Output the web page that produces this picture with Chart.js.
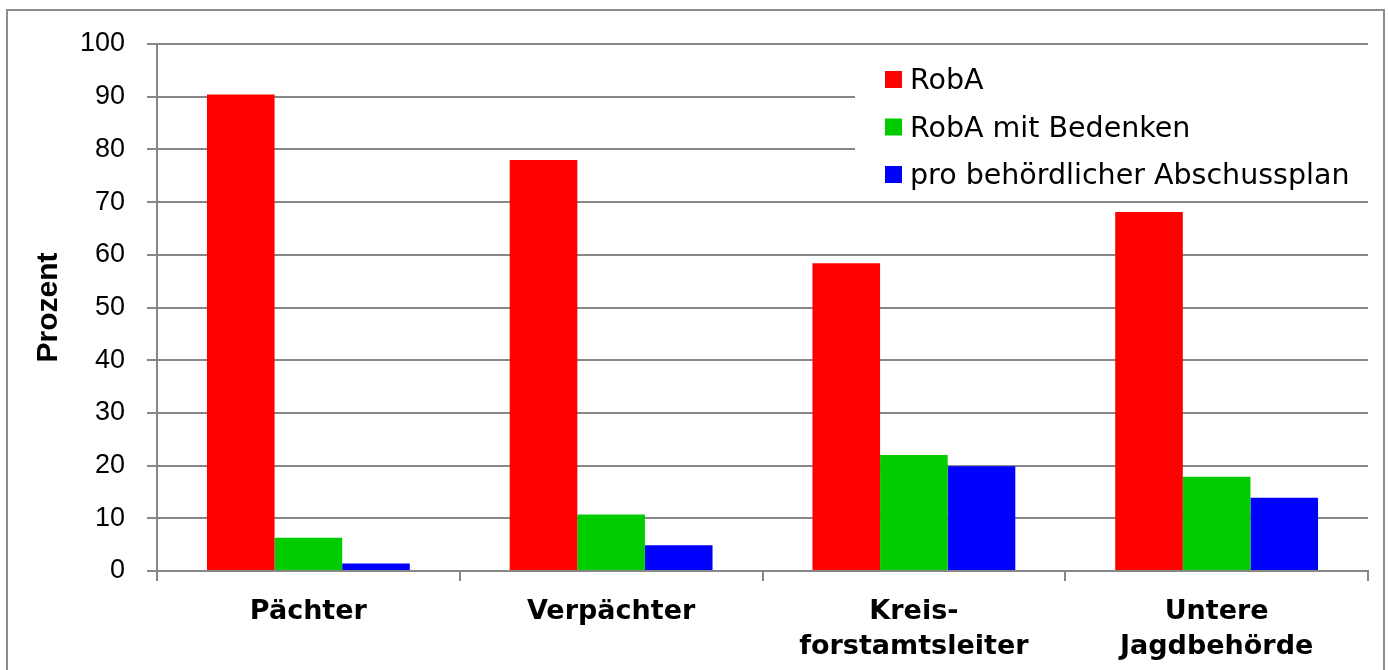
<!DOCTYPE html>
<html lang="de">
<head>
    <meta charset="UTF-8">
    <title>RobA - Prozent</title>
    <script src="https://cdn.jsdelivr.net/npm/chart.js"></script>
    <style>
        html, body { margin: 0; padding: 0; background: #fff; overflow: hidden; }
        #wrap { position: relative; width: 1389px; height: 670px; }
    </style>
</head>
<body>
<div id="wrap">
    <canvas id="chart" width="1389" height="670"></canvas>
</div>
<script>
    // Daten
    const categories = [['Pächter'], ['Verpächter'], ['Kreis-', 'forstamtsleiter'], ['Untere', 'Jagdbehörde']];
    const seriesNames = ['RobA', 'RobA mit Bedenken', 'pro behördlicher Abschussplan'];
    const robA = [90.4, 78.0, 58.4, 68.1];
    const robAMitBedenken = [6.3, 10.7, 22.0, 17.9];
    const proAbschussplan = [1.4, 4.9, 19.9, 13.9];
    const seriesColors = ['#ff0000', '#00cc00', '#0000ff'];

    const gridGray = '#878787';

    // Rahmen um das Diagramm
    const frame = {
        id: 'frame',
        beforeDraw(chart) {
            const ctx = chart.ctx;
            ctx.save();
            ctx.strokeStyle = '#8c8c8c';
            ctx.lineWidth = 2;
            ctx.strokeRect(7, 10, 1377, 700);
            ctx.restore();
        }
    };

    // Legende innerhalb der Zeichenfläche
    const innerLegend = {
        id: 'innerLegend',
        afterDraw(chart) {
            const ctx = chart.ctx;
            ctx.save();
            ctx.fillStyle = '#fff';
            ctx.fillRect(855, 56, 516, 140);
            ctx.font = '28.5px "DejaVu Sans"';
            ctx.textBaseline = 'alphabetic';
            chart.data.datasets.forEach((ds, i) => {
                const base = 89 + i * 47.5;
                ctx.fillStyle = ds.backgroundColor;
                ctx.fillRect(885, base - 18, 17, 17);
                ctx.fillStyle = '#000';
                ctx.fillText(ds.label, 910, base);
            });
            ctx.restore();
        }
    };

    const ctx = document.getElementById('chart').getContext('2d');
    new Chart(ctx, {
        type: 'bar',
        data: {
            labels: categories,
            datasets: [
                { label: seriesNames[0], data: robA, backgroundColor: seriesColors[0] },
                { label: seriesNames[1], data: robAMitBedenken, backgroundColor: seriesColors[1] },
                { label: seriesNames[2], data: proAbschussplan, backgroundColor: seriesColors[2] }
            ]
        },
        options: {
            responsive: false,
            animation: false,
            layout: { padding: { top: 44, right: 21, bottom: 0, left: 0 } },
            datasets: { bar: { categoryPercentage: 0.67, barPercentage: 1.0 } },
            plugins: {
                legend: { display: false },
                tooltip: { enabled: false }
            },
            scales: {
                x: {
                    afterFit: s => { s.height = 99; },
                    grid: { drawOnChartArea: false, offset: true, tickLength: 10, color: gridGray, lineWidth: 2 },
                    border: { display: true, color: gridGray, width: 2 },
                    ticks: {
                        color: '#000',
                        padding: 13,
                        maxRotation: 0,
                        autoSkip: false,
                        font: { family: 'DejaVu Sans', size: 27, weight: 'bold', lineHeight: 1.3 }
                    }
                },
                y: {
                    min: 0,
                    max: 100,
                    afterFit: s => { s.width = 157; },
                    grid: { color: gridGray, lineWidth: 2, tickLength: 10 },
                    border: { display: true, color: gridGray, width: 2 },
                    ticks: {
                        stepSize: 10,
                        color: '#000',
                        padding: 22,
                        font: { family: 'Liberation Sans', size: 27 }
                    },
                    title: {
                        display: true,
                        text: 'Prozent',
                        color: '#000',
                        padding: { top: 31, bottom: 0 },
                        font: { family: 'Liberation Sans', size: 30, weight: 'bold' }
                    }
                }
            }
        },
        plugins: [frame, innerLegend]
    });
</script>
</body>
</html>
